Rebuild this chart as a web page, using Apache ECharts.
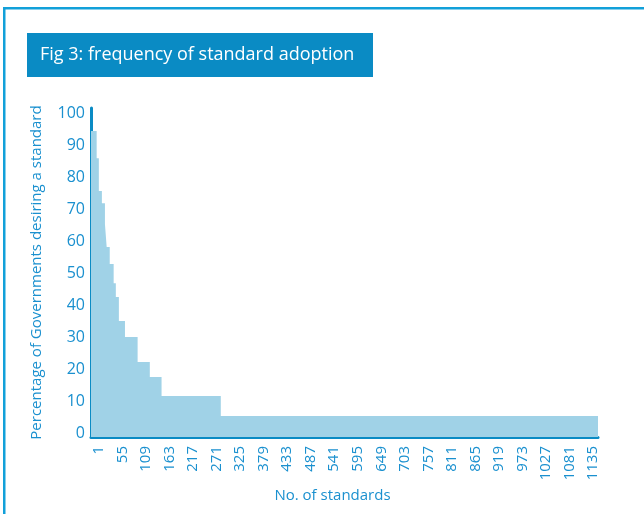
<!DOCTYPE html>
<html>
<head>
<meta charset="utf-8">
<script src="https://cdn.jsdelivr.net/npm/echarts@6/dist/echarts.min.js"></script>
<style>
html,body{margin:0;padding:0;background:#ffffff;}
#chart{width:644px;height:514px;}
</style>
</head>
<body>
<div id="chart"></div>
<script>
// Step boundaries (No. of standards where each level starts) and percentage levels
const segStart = [0, 13, 18, 25, 32, 36, 43, 52, 57, 64, 78, 107, 135, 162, 298];
const segValue = [95.8, 87.3, 77.0, 73.2, 66.7, 59.5, 54.2, 48.1, 43.8, 36.3, 31.3, 23.5, 18.8, 12.8, 6.6];
const totalStandards = 1164;
const xTickLabels = ['1','55','109','163','217','271','325','379','433','487','541','595','649','703','757','811','865','919','973','1027','1081','1135'];
const yTickLabels = ['0','10','20','30','40','50','60','70','80','90','100'];
const titleText = 'Fig 3: frequency of standard adoption';
const xName = 'No. of standards';
const yName = 'Percentage of Governments desiring a standard';

const stepData = segStart.map((s, i) => [s, segValue[i]]);
stepData.push([totalStandards, segValue[segValue.length - 1]]);

const blue = '#0a8bc4';
const labelBlue = '#1a90cf';
const font = 'Open Sans';

const chart = echarts.init(document.getElementById('chart'), null, {renderer: 'canvas'});
chart.setOption({
  backgroundColor: '#ffffff',
  animation: false,
  textStyle: {fontFamily: font},
  graphic: [
    {type: 'rect', shape: {x: 3, y: 7, width: 641, height: 2.5}, style: {fill: '#12a0d9'}},
    {type: 'rect', shape: {x: 3, y: 7, width: 2.5, height: 507}, style: {fill: '#12a0d9'}},
    {type: 'rect', shape: {x: 27, y: 33, width: 346, height: 44}, style: {fill: blue}},
    {type: 'text', x: 40, y: 55, style: {text: titleText, fill: '#ffffff', font: '18px "Open Sans"', verticalAlign: 'middle'}}
  ],
  grid: {left: 91, right: 46, top: 108, bottom: 77, containLabel: false},
  xAxis: {
    type: 'value',
    min: 0,
    max: totalStandards,
    interval: 54,
    name: xName,
    nameLocation: 'middle',
    nameGap: 48,
    nameTextStyle: {color: labelBlue, fontSize: 15, fontFamily: font, padding: [0, 24, 0, 0]},
    axisLine: {show: true, lineStyle: {color: blue, width: 3}},
    axisTick: {show: false},
    splitLine: {show: false},
    axisLabel: {
      rotate: 90,
      margin: 9,
      color: labelBlue,
      fontSize: 15,
      lineHeight: 16,
      verticalAlign: 'top',
      fontFamily: font,
      showMaxLabel: true,
      showMinLabel: true,
      formatter: function (v) { const i = Math.round(v / 54); return (Math.abs(v - i * 54) < 1e-6 && xTickLabels[i]) ? xTickLabels[i] : ''; }
    }
  },
  yAxis: {
    type: 'value',
    min: 0,
    max: 103,
    interval: 10,
    name: yName,
    nameLocation: 'middle',
    nameGap: 47,
    nameTextStyle: {color: labelBlue, fontSize: 15, fontFamily: font},
    axisLine: {show: true, lineStyle: {color: blue, width: 3}},
    axisTick: {show: false},
    splitLine: {show: false},
    axisLabel: {
      color: labelBlue,
      fontSize: 16,
      lineHeight: 8,
      verticalAlign: 'bottom',
      fontFamily: font,
      margin: 6,
      showMaxLabel: true,
      formatter: function (v) { const i = Math.round(v / 10); return (Math.abs(v - i * 10) < 1e-6 && yTickLabels[i]) ? yTickLabels[i] : ''; }
    }
  },
  series: [{
    type: 'line',
    step: 'end',
    data: stepData,
    symbol: 'none',
    lineStyle: {width: 0},
    areaStyle: {color: '#a0d2e7', opacity: 1},
    z: 1
  }]
});
</script>
</body>
</html>
